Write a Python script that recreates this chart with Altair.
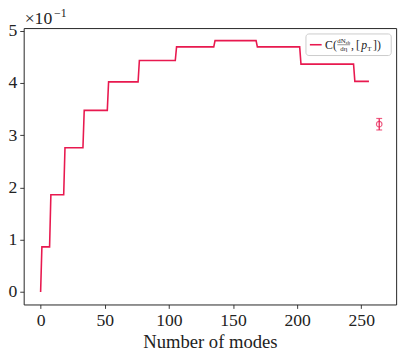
import altair as alt
import pandas as pd

# step curve: number of modes where the value changes, and the value reached there
change_modes = [0, 1, 8, 19, 34, 53, 77, 106, 136, 169, 203, 245]
levels = [0.0, 0.0863, 0.186, 0.276, 0.3475, 0.402, 0.443, 0.469, 0.481, 0.469, 0.436, 0.403]
last_mode = 256

# single reference point with error bar
ref_mode = [264]
ref_value = [0.321]
ref_err = [0.011]

x_ticks = [0, 50, 100, 150, 200, 250]
y_ticks = [0.0, 0.1, 0.2, 0.3, 0.4, 0.5]

COLOR = "#e8194f"
FONT = "Liberation Serif"

# vertices of the step line (value held until one mode before each change)
xs, ys = [change_modes[0]], [levels[0]]
for i in range(1, len(change_modes)):
    xs += [change_modes[i] - 1, change_modes[i]]
    ys += [levels[i - 1], levels[i]]
xs.append(last_mode)
ys.append(levels[-1])
line_df = pd.DataFrame({"modes": xs, "value": ys, "order": range(len(xs))})

pt_df = pd.DataFrame({"modes": ref_mode, "value": ref_value,
                      "lo": [v - e for v, e in zip(ref_value, ref_err)],
                      "hi": [v + e for v, e in zip(ref_value, ref_err)]})

W, H = 380, 282
xscale = alt.Scale(domain=[-13.2, 277.2], nice=False, zero=False)
yscale = alt.Scale(domain=[-0.024, 0.505], nice=False, zero=False)

xaxis = alt.Axis(values=x_ticks, title="Number of modes", grid=False, domain=False,
                 tickColor="#222", tickSize=4, tickWidth=0.9, labelFont=FONT,
                 labelFontSize=18, labelColor="#222", labelPadding=3,
                 titleFont=FONT, titleFontSize=19, titleFontWeight="normal",
                 titleColor="#222", titlePadding=4)
yaxis = alt.Axis(values=y_ticks, title=None, grid=False, domain=False,
                 labelExpr="format(datum.value*10, 'd')",
                 tickColor="#222", tickSize=4, tickWidth=0.9, labelFont=FONT,
                 labelFontSize=18, labelColor="#222", labelPadding=3)

line = alt.Chart(line_df).mark_line(color=COLOR, strokeWidth=1.6).encode(
    x=alt.X("modes:Q", scale=xscale, axis=xaxis),
    y=alt.Y("value:Q", scale=yscale, axis=yaxis),
    order="order:Q",
)

err = alt.Chart(pt_df).mark_rule(color=COLOR, strokeWidth=1.2).encode(
    x="modes:Q", y="lo:Q", y2="hi:Q")
cap_lo = alt.Chart(pt_df).mark_tick(color=COLOR, orient="horizontal", size=6, thickness=1.2).encode(
    x="modes:Q", y="lo:Q")
cap_hi = alt.Chart(pt_df).mark_tick(color=COLOR, orient="horizontal", size=6, thickness=1.2).encode(
    x="modes:Q", y="hi:Q")
pt = alt.Chart(pt_df).mark_point(color=COLOR, filled=False, size=32, strokeWidth=1.2).encode(
    x="modes:Q", y="value:Q")

one = pd.DataFrame({"a": [0]})

def txt(s, x, y, size, **kw):
    return alt.Chart(one).mark_text(text=s, font=FONT, fontSize=size, align="left",
                                    baseline="alphabetic", color="#222", **kw).encode(
        x=alt.value(x), y=alt.value(y))

offset1 = txt("×10", 1, -4, 18)
offset2 = txt("−1", 31, -11, 12)

legend_box = alt.Chart(one).mark_rect(fill="white", stroke="#cccccc", strokeWidth=1,
                                      cornerRadius=3).encode(
    x=alt.value(288), x2=alt.value(375), y=alt.value(6), y2=alt.value(28))
legend_line = alt.Chart(one).mark_rule(color=COLOR, strokeWidth=1.6).encode(
    x=alt.value(292), x2=alt.value(304), y=alt.value(17))
frac_bar = alt.Chart(one).mark_rule(color="#222", strokeWidth=0.5).encode(
    x=alt.value(320), x2=alt.value(333), y=alt.value(17))
leg_texts = [
    txt("C(", 307.5, 21, 12),
    txt("dN", 320, 15, 7),
    txt("ch", 328.5, 16.5, 5),
    txt("dη", 323, 23.5, 7),
    txt(",", 334, 21, 12),
    txt("[", 339, 21, 12),
    txt("p", 344.5, 21, 12, fontStyle="italic"),
    txt("T", 350.5, 23.5, 7),
    txt("])", 356.5, 21, 12),
]

chart = alt.layer(line, err, cap_lo, cap_hi, pt, offset1, offset2,
                  legend_box, legend_line, frac_bar, *leg_texts).properties(
    width=W, height=H,
    autosize=alt.AutoSizeParams(type="none"),
    padding={"left": 16, "top": 17, "right": 7, "bottom": 45},
).configure_view(stroke="#222", strokeWidth=1)

chart.save("out.html", embed_options={"renderer": "svg", "actions": False})
